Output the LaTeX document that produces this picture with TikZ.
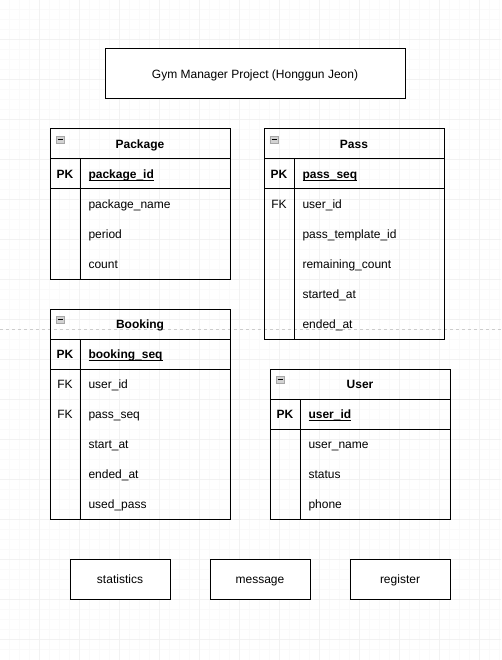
\documentclass[tikz,border=0pt]{standalone}
\usepackage{fontspec}
\setmainfont{Liberation Sans}
\usetikzlibrary{positioning}
% underlined key field, rule just under the baseline
\newcommand\keyname[1]{\setbox0\hbox{#1}\rlap{\rule[-2.2pt]{\wd0}{0.9pt}}\box0}
\begin{document}
\begin{tikzpicture}[x=1pt, y=-1pt, line width=1pt,
    every node/.style={font=\fontsize{12}{14}\selectfont},
    minor/.style={gray!4},
    major/.style={gray!10},
    box/.style={draw, fill=white, outer sep=0pt, inner sep=0pt,
      minimum width=100pt, minimum height=40pt, text height=9pt, text depth=0pt},
    entity/.style={draw, outer sep=0pt, inner sep=0pt, anchor=north west, minimum width=180pt},
    head/.style={font=\fontsize{12}{14}\selectfont\bfseries, inner sep=0pt, text height=9pt, text depth=0pt},
    key/.style={inner sep=0pt, text height=9pt, text depth=0pt},
    pk/.style={key, font=\fontsize{12}{14}\selectfont\bfseries},
    cell/.style={key, anchor=west},
    fold/.style={draw=gray!70, fill=gray!35, line width=0.6pt}]
  \fill[white] (0,0) rectangle (501,660);
  \useasboundingbox (0,0) rectangle (501,660);
  % grid
  \foreach \k in {10,20,...,650} \draw[minor] (0,\k-0.5) -- (501,\k-0.5);
  \foreach \k in {10,20,...,500} \draw[minor] (\k-0.5,0) -- (\k-0.5,660);
  \foreach \k in {40,80,...,640} \draw[major] (0,\k-0.5) -- (501,\k-0.5);
  \foreach \k in {40,80,...,480} \draw[major] (\k-0.5,0) -- (\k-0.5,660);
  \draw[gray!40, dash pattern=on 3pt off 3pt] (0,329.5) -- (501,329.5);

  \node (title) [box, minimum width=300pt, minimum height=50pt] at (255,74)
    {Gym Manager Project (Honggun Jeon)};

  % Package
  \node (package) [entity, minimum height=150pt] at (50,129) {};
  \node (package-head) [head] at (140,144) {Package};
  \draw (50,159) -- (230,159) (50,189) -- (230,189) (80,159) -- (80,279);
  \node (package-pk) [pk] at (65,174) {PK};
  \node (package-id) [cell, font=\fontsize{12}{14}\selectfont\bfseries] at (88,174) {\keyname{package\_id}};
  \foreach \f [count=\i] in {package\_name, period, count}
    \node (package-f\i) [cell] at (88,174+30*\i) {\f};

  % Pass
  \node (pass) [entity, minimum height=210pt] at (264,129) {};
  \node (pass-head) [head] at (354,144) {Pass};
  \draw (264,159) -- (444,159) (264,189) -- (444,189) (294,159) -- (294,339);
  \node (pass-pk) [pk] at (279,174) {PK};
  \node (pass-fk) [key] at (279,204) {FK};
  \node (pass-id) [cell, font=\fontsize{12}{14}\selectfont\bfseries] at (302,174) {\keyname{pass\_seq}};
  \foreach \f [count=\i] in {user\_id, pass\_template\_id, remaining\_count, started\_at, ended\_at}
    \node (pass-f\i) [cell] at (302,174+30*\i) {\f};

  % Booking
  \node (booking) [entity, minimum height=210pt] at (50,309) {};
  \node (booking-head) [head] at (140,324) {Booking};
  \draw (50,339) -- (230,339) (50,369) -- (230,369) (80,339) -- (80,519);
  \node (booking-pk) [pk] at (65,354) {PK};
  \node (booking-fk1) [key] at (65,384) {FK};
  \node (booking-fk2) [key] at (65,414) {FK};
  \node (booking-id) [cell, font=\fontsize{12}{14}\selectfont\bfseries] at (88,354) {\keyname{booking\_seq}};
  \foreach \f [count=\i] in {user\_id, pass\_seq, start\_at, ended\_at, used\_pass}
    \node (booking-f\i) [cell] at (88,354+30*\i) {\f};

  % User
  \node (user) [entity, minimum height=150pt] at (270,369) {};
  \node (user-head) [head] at (360,384) {User};
  \draw (270,399) -- (450,399) (270,429) -- (450,429) (300,399) -- (300,519);
  \node (user-pk) [pk] at (285,414) {PK};
  \node (user-id) [cell, font=\fontsize{12}{14}\selectfont\bfseries] at (308,414) {\keyname{user\_id}};
  \foreach \f [count=\i] in {user\_name, status, phone}
    \node (user-f\i) [cell] at (308,414+30*\i) {\f};

  % collapse icons
  \foreach \x/\y in {50/129, 264/129, 50/309, 270/369} {
    \draw[fold] (\x+6,\y+7) rectangle ++(8,7);
    \draw[line width=0.8pt] (\x+7.5,\y+10.5) -- ++(5,0);
  }

  \node (statistics) [box] at (120,579) {statistics};
  \node (message) [box, right=40pt of statistics] {message};
  \node (register) [box, right=40pt of message] {register};
\end{tikzpicture}
\end{document}
